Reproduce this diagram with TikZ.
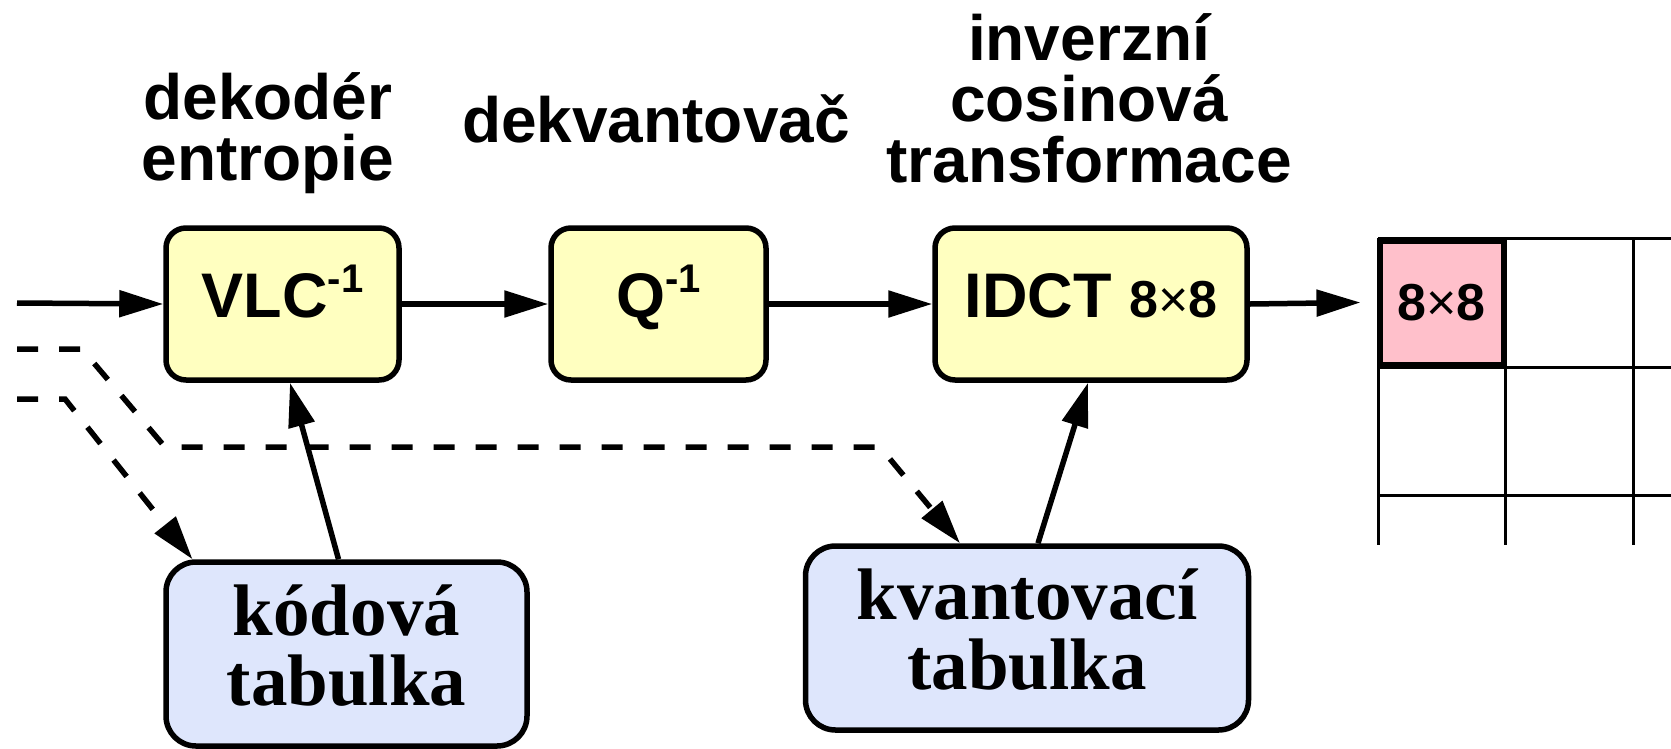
\documentclass[tikz,border=0pt]{standalone}
\usepackage{fontspec}
\setmainfont{Liberation Serif}
\setsansfont{Liberation Sans}
\usetikzlibrary{arrows.meta}
\definecolor{boxyellow}{RGB}{255,255,192}
\definecolor{boxblue}{RGB}{222,230,252}
\definecolor{blockpink}{RGB}{255,192,203}
\newcommand{\invsup}{\raisebox{25pt}{\fontsize{40}{40}\selectfont -1}}
\newcommand{\blocksize}{8{\mdseries ×}8}
\tikzset{
  stage/.style={draw, line width=5.5pt, rounded corners=20pt, fill=boxyellow, inner sep=0pt,
    font=\sffamily\bfseries\fontsize{63}{63}\selectfont, text height=46pt, text depth=20pt,
    minimum height=152pt},
  lookup/.style={draw, line width=5.5pt, rounded corners=30pt, fill=boxblue, align=center,
    font=\rmfamily\bfseries\fontsize{73}{70}\selectfont, text depth=18pt, minimum height=184pt},
  caption/.style={align=center, inner sep=0pt, font=\sffamily\bfseries\fontsize{64}{61}\selectfont},
  flow/.style={line width=5.5pt, -{Triangle[length=44pt,width=26pt]}},
  side/.style={flow, dash pattern=on 21pt off 21pt},
  gridline/.style={line width=3pt},
  cell/.style={draw, line width=6pt, fill=blockpink, minimum size=124pt, inner sep=0pt,
    font=\sffamily\bfseries\fontsize{52}{52}\selectfont}
}
\begin{document}
\begin{tikzpicture}[x=1pt, y=-1pt]
    \useasboundingbox (0,0) rectangle (1671,748);
    % labels above the stages (base = last line)
    \node[caption, anchor=base] (capvlc) at (268,180) {dekodér\\entropie};
    \node[caption, anchor=base] (capq) at (656,142) {dekvantovač};
    \node[caption, anchor=base] (capidct) at (1089,182) {inverzní\\cosinová\\transformace};
    % stages
    \node[stage, minimum width=233pt] (vlc) at (282.5,304) {VLC\invsup};
    \node[stage, minimum width=215pt] (q) at (658.5,304) {Q\invsup};
    \node[stage, minimum width=312pt] (idct) at (1091,304) {IDCT {\fontsize{52}{52}\selectfont\blocksize}};
    % tables
    \node[lookup, minimum width=361pt] (kod) at (346.5,654) {kódová\\tabulka};
    \node[lookup, minimum width=443pt] (kvant) at (1027,638) {kvantovací\\tabulka};
    % output blocks
    \foreach \gx in {1378,1505,1633}
        \draw[gridline] (\gx,238) -- (\gx,545);
    \foreach \gy in {238,367,495}
        \draw[gridline] (1378,\gy) -- (1671,\gy);
    \node[cell] (blk) at (1441.5,302.5) {\blocksize};
    % main flow
    \coordinate (in) at (17,303);
    \draw[flow] (in) -- (vlc.west);
    \draw[flow] (vlc.east) -- (q.west);
    \draw[flow] (q.east) -- (idct.west);
    \draw[flow] (idct.east) -- ([xshift=-16pt]blk.west);
    \draw[flow] ([xshift=-8pt]kod.north) -- ([xshift=7.5pt]vlc.south);
    \draw[flow] ([xshift=11pt]kvant.north) -- ([xshift=-3pt]idct.south);
    % side information
    \coordinate (qa) at (17,349);
    \coordinate (qb) at (82,349);
    \coordinate (qc) at (165,447);
    \coordinate (qd) at (880,447);
    \draw[side] (qa) -- (qb) -- (qc) -- (qd) -- ([xshift=-67pt]kvant.north);
    \coordinate (ka) at (17,399);
    \coordinate (kb) at (65,399);
    \draw[side] (ka) -- (kb) -- ([xshift=-154pt]kod.north);
\end{tikzpicture}
\end{document}
